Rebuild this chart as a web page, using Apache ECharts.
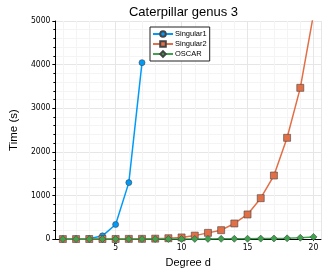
<!DOCTYPE html>
<html>
<head>
<meta charset="utf-8">
<script src="https://cdn.jsdelivr.net/npm/echarts@6/dist/echarts.min.js"></script>
<style>html,body{margin:0;padding:0;background:#fff;}#c{width:327px;height:273px;}</style>
</head>
<body>
<div id="c"></div>
<script>
const degrees = [1,2,3,4,5,6,7,8,9,10,11,12,13,14,15,16,17,18,19,20];
const singular1 = [2, 4, 8, 75, 335, 1295, 4045];
const singular2 = [1, 1, 2, 2, 3, 5, 6, 10, 20, 38, 80, 143, 205, 358, 565, 938, 1458, 2322, 3468, 5150];
const oscar = [0.5, 0.5, 0.6, 0.8, 1, 1.2, 1.5, 2, 2.5, 3, 4, 5, 6, 7, 9, 11, 14, 18, 30, 50];
const seriesNames = ['Singular1', 'Singular2', 'OSCAR'];
const colors = ['#009AF9', '#E26F46', '#3DA44D'];
const yTicks = [0, 1000, 2000, 3000, 4000, 5000];

const pairs = (vals) => vals.map((v, i) => [degrees[i], v]);
const font = 'Liberation Sans';
const narrow = '"Liberation Sans Narrow", "DejaVu Sans Condensed", "Liberation Sans"';
const chart = echarts.init(document.getElementById('c'), null, {renderer: 'canvas'});
const symbols = ['circle', 'rect', 'diamond'];
const sizes = [6, 7, 7];
chart.setOption({
  animation: false,
  title: {
    text: 'Caterpillar genus 3', left: 178.5, top: 1, textAlign: 'center',
    textStyle: {fontFamily: font, fontSize: 13, fontWeight: 'normal', color: '#000'}
  },
  legend: {
    left: 150, top: 27, orient: 'vertical',
    data: seriesNames,
    backgroundColor: '#fff', borderColor: '#222', borderWidth: 1,
    padding: [3, 3, 3, 2], itemWidth: 20, itemHeight: 7, itemGap: 2,
    textStyle: {fontFamily: font, fontSize: 7.5, color: '#000', padding: [0, 0, 0, -3]}
  },
  grid: {left: 36, right: 6, top: 21, bottom: 31, containLabel: false},
  xAxis: {
    type: 'value', min: 0.43, max: 20.57, splitNumber: 4,
    name: 'Degree d', nameLocation: 'middle', nameGap: 15,
    nameTextStyle: {fontFamily: font, fontSize: 11, color: '#000'},
    axisLine: {show: true, onZero: false, lineStyle: {color: '#000', width: 1}},
    axisTick: {show: true, length: 2, lineStyle: {color: '#000'}},
    minorTick: {show: false, splitNumber: 5},
    axisLabel: {fontFamily: narrow, fontSize: 8.5, color: '#000', margin: 4, showMinLabel: false, showMaxLabel: false},
    splitLine: {show: true, lineStyle: {color: '#e6e6e6', width: 1}},
    minorSplitLine: {show: true, lineStyle: {color: '#f4f4f4', width: 1}}
  },
  yAxis: {
    type: 'value', min: yTicks[0], max: yTicks[yTicks.length - 1], interval: 1000,
    name: 'Time (s)', nameLocation: 'middle', nameGap: 27, nameRotate: 90,
    nameTextStyle: {fontFamily: font, fontSize: 11.5, color: '#000'},
    axisLine: {show: true, lineStyle: {color: '#000', width: 1}},
    axisTick: {show: true, length: 3, lineStyle: {color: '#000'}},
    minorTick: {show: true, splitNumber: 5, length: 2, lineStyle: {color: '#000'}},
    axisLabel: {fontFamily: narrow, fontSize: 8.5, color: '#000', margin: 5, formatter: (v) => String(v)},
    splitLine: {show: true, lineStyle: {color: '#e6e6e6', width: 1}},
    minorSplitLine: {show: true, lineStyle: {color: '#f4f4f4', width: 1}}
  },
  series: [singular1, singular2, oscar].map((vals, i) => ({
    name: seriesNames[i], type: 'line', data: pairs(vals),
    symbol: symbols[i], symbolSize: sizes[i], showAllSymbol: true, clip: true,
    lineStyle: {color: colors[i], width: 1.5},
    itemStyle: {color: colors[i], borderColor: '#444', borderWidth: 0.6},
    z: 2 + i
  }))
});
</script>
</body>
</html>
